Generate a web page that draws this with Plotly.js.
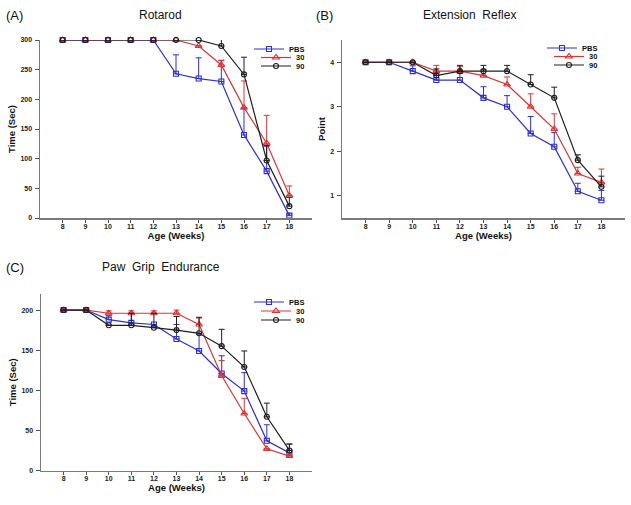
<!DOCTYPE html>
<html>
<head>
<meta charset="utf-8">
<script src="https://cdn.plot.ly/plotly-3.0.1.min.js"></script>
<style>html,body{margin:0;padding:0;background:#fff;}#chart{width:631px;height:505px;}</style>
</head>
<body>
<div id="chart"></div>
<script>
// ---- data ----
const weeks = [8, 9, 10, 11, 12, 13, 14, 15, 16, 17, 18];
const seriesNames = ["PBS", "30", "90"];

// (A) Rotarod, Time (Sec)
const rotarodPBS = [300, 300, 300, 300, 300, 243, 235, 230, 140, 79, 4];
const rotarodPBSErr = [0, 0, 0, 0, 0, 32, 35, 35, 45, 42, 3];
const rotarod30 = [300, 300, 300, 300, 300, 300, 290, 258, 186, 126, 38];
const rotarod30Err = [0, 0, 0, 0, 0, 0, 0, 8, 45, 47, 16];
const rotarod90 = [300, 300, 300, 300, 300, 300, 300, 290, 242, 97, 20];
const rotarod90Err = [0, 0, 0, 0, 0, 0, 0, 12, 29, 25, 15];

// (B) Extension Reflex, Point
const reflexPBS = [4, 4, 3.8, 3.6, 3.6, 3.2, 3.0, 2.4, 2.1, 1.1, 0.9];
const reflexPBSErr = [0, 0, 0.12, 0.15, 0.15, 0.25, 0.25, 0.38, 0.32, 0.18, 0.22];
const reflex30 = [4, 4, 4, 3.8, 3.8, 3.7, 3.5, 3.0, 2.5, 1.5, 1.3];
const reflex30Err = [0, 0, 0, 0.13, 0.1, 0.14, 0.17, 0.29, 0.34, 0.14, 0.3];
const reflex90 = [4, 4, 4, 3.7, 3.8, 3.8, 3.8, 3.5, 3.2, 1.8, 1.2];
const reflex90Err = [0, 0, 0, 0.15, 0.13, 0.13, 0.13, 0.22, 0.24, 0.12, 0.24];

// (C) Paw Grip Endurance, Time (Sec)
const gripPBS = [200, 200, 188, 184, 182, 164, 149, 121, 99, 37, 22];
const gripPBSErr = [0, 0, 5, 12, 0, 18, 21, 22, 23, 20, 11];
const grip30 = [200, 200, 196, 196, 196, 196, 182, 118, 71, 27, 18];
const grip30Err = [0, 0, 3, 3, 3, 4, 8, 19, 19, 0, 0];
const grip90 = [200, 200, 181, 181, 178, 175, 171, 155, 129, 67, 25];
const grip90Err = [0, 0, 0, 15, 18, 17, 20, 21, 20, 17, 8];

const xTicks = weeks;
const yTicksA = [0, 50, 100, 150, 200, 250, 300];
const yTicksB = [1, 2, 3, 4];
const yTicksC = [0, 50, 100, 150, 200];

// ---- styling ----
const colors = ["#2f2fcf", "#d93636", "#1e1e1e"];
const symbols = ["square-open", "triangle-up-open", "circle-open"];
const msize = [5, 6, 5];
const zeros = weeks.map(() => 0);

function mk(y, err, i, xa, ya, leg) {
  return {
    x: weeks, y: y, name: seriesNames[i], type: "scatter", mode: "lines+markers",
    xaxis: xa, yaxis: ya, legend: leg, cliponaxis: false,
    line: {color: colors[i], width: 1.2},
    marker: {symbol: symbols[i], size: msize[i], color: colors[i], line: {width: 1.1, color: colors[i]}},
    error_y: {type: "data", symmetric: false, array: err, arrayminus: zeros,
              color: colors[i], thickness: 1, width: 3}
  };
}

const data = [
  mk(rotarodPBS, rotarodPBSErr, 0, "x", "y", "legend"),
  mk(rotarod30, rotarod30Err, 1, "x", "y", "legend2"),
  mk(rotarod90, rotarod90Err, 2, "x", "y", "legend3"),
  mk(reflexPBS, reflexPBSErr, 0, "x2", "y2", "legend4"),
  mk(reflex30, reflex30Err, 1, "x2", "y2", "legend5"),
  mk(reflex90, reflex90Err, 2, "x2", "y2", "legend6"),
  mk(gripPBS, gripPBSErr, 0, "x3", "y3", "legend7"),
  mk(grip30, grip30Err, 1, "x3", "y3", "legend8"),
  mk(grip90, grip90Err, 2, "x3", "y3", "legend9")
];

const W = 631, H = 505;
const fx = p => p / W;
const fy = p => 1 - p / H;
const tickFont = {family: "Liberation Sans, Arial, sans-serif", size: 7, color: "#222", weight: "bold"};
const titleFont = {family: "Liberation Sans, Arial, sans-serif", size: 9.5, color: "#111", weight: "bold"};

function xax(d0, d1, anchor) {
  return {domain: [fx(d0), fx(d1)], anchor: anchor, range: [7, 19], tickvals: xTicks,
    showgrid: false, zeroline: false, showline: true, linecolor: "#7a7a7a", linewidth: 1.5,
    ticks: "outside", ticklen: 3, tickwidth: 1, tickcolor: "#555", tickfont: tickFont,
    ticklabelstandoff: -2,
    title: {text: "Age (Weeks)", font: titleFont, standoff: 3}, fixedrange: true};
}
function yax(d0, d1, anchor, range, tv, title) {
  return {domain: [fy(d1), fy(d0)], anchor: anchor, range: range, tickvals: tv,
    showgrid: false, zeroline: false, showline: true, linecolor: "#7a7a7a", linewidth: 1.5,
    ticks: "outside", ticklen: 4, tickwidth: 1, tickcolor: "#555", tickfont: tickFont,
    ticklabelstandoff: 1,
    title: {text: title, font: titleFont, standoff: 3}, fixedrange: true};
}
function leg(x, y) {
  return {x: fx(x), y: fy(y), xanchor: "right", yanchor: "middle", xref: "paper", yref: "paper",
    bgcolor: "rgba(0,0,0,0)", borderwidth: 0,
    font: {family: "Liberation Sans, Arial, sans-serif", size: 7.5, color: "#111", weight: "bold"},
    itemwidth: 30, tracegroupgap: 0};
}

const annFont = {family: "Liberation Sans, Arial, sans-serif", size: 12, color: "#111"};
const labFont = {family: "Liberation Sans, Arial, sans-serif", size: 13, color: "#111"};
function ann(text, x, y, font, xanchor) {
  return {text: text, x: fx(x), y: fy(y), xref: "paper", yref: "paper", showarrow: false,
    xanchor: xanchor, yanchor: "middle", font: font};
}

const layout = {
  width: W, height: H, margin: {l: 0, r: 0, t: 0, b: 0},
  paper_bgcolor: "#fff", plot_bgcolor: "#fff", showlegend: true,
  xaxis: xax(40, 312, "y"),
  yaxis: yax(40, 218, "x", [0, 300], yTicksA, "Time (Sec)"),
  xaxis2: xax(342, 625, "y2"),
  yaxis2: yax(40, 218, "x2", [0.5, 4.5], yTicksB, "Point"),
  xaxis3: xax(41, 312, "y3"),
  yaxis3: yax(294, 470.5, "x3", [0, 220], yTicksC, "Time (Sec)"),
  legend: leg(310, 49), legend2: leg(310, 57.5), legend3: leg(310, 66),
  legend4: leg(603, 48), legend5: leg(603, 56.5), legend6: leg(603, 65),
  legend7: leg(310, 302), legend8: leg(310, 311), legend9: leg(310, 320),
  annotations: [
    ann("(A)", 4, 15, labFont, "left"),
    ann("Rotarod", 160, 15, annFont, "center"),
    ann("(B)", 314, 15, labFont, "left"),
    ann("Extension  Reflex", 469, 15, annFont, "center"),
    ann("(C)", 4, 267, labFont, "left"),
    ann("Paw  Grip  Endurance", 161, 267, annFont, "center")
  ]
};

Plotly.newPlot("chart", data, layout, {displayModeBar: false, staticPlot: true});
</script>
</body>
</html>
